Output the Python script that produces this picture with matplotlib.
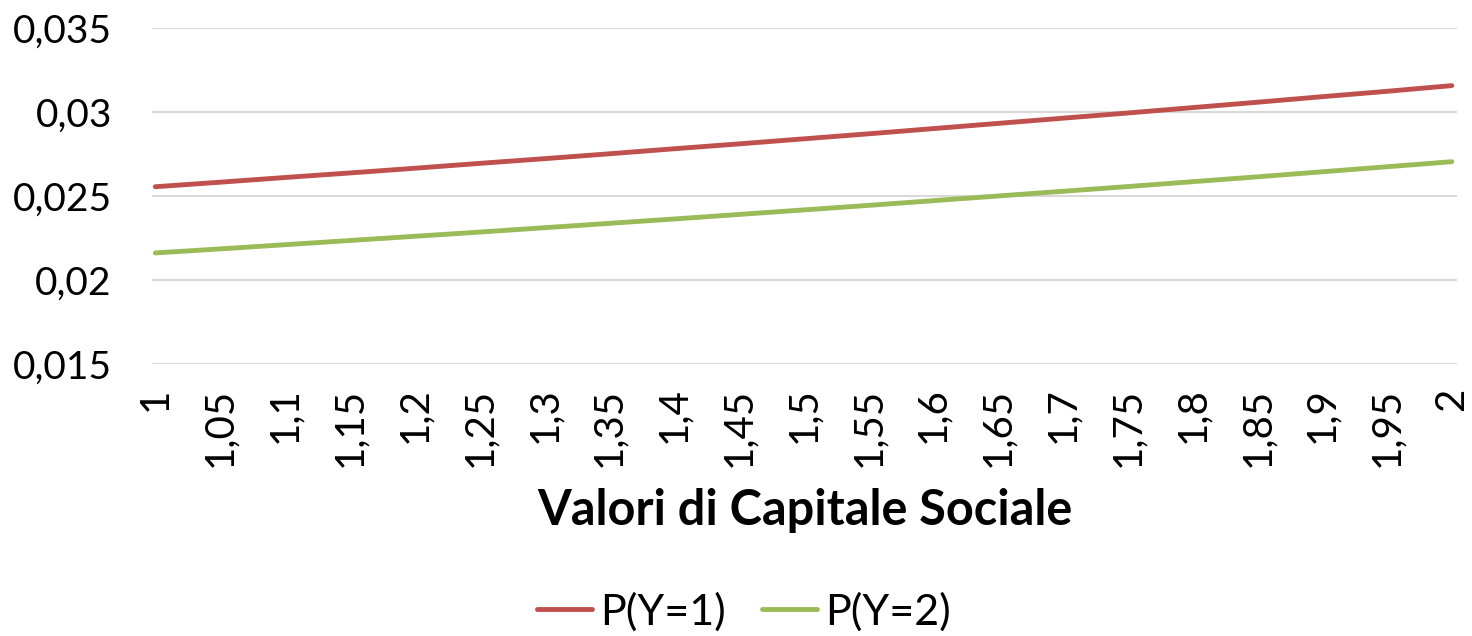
import matplotlib
matplotlib.use("Agg")
import matplotlib.pyplot as plt

categories = ["1", "1,05", "1,1", "1,15", "1,2", "1,25", "1,3", "1,35", "1,4", "1,45", "1,5",
              "1,55", "1,6", "1,65", "1,7", "1,75", "1,8", "1,85", "1,9", "1,95", "2"]
p_y1 = [0.02555, 0.02582, 0.02610, 0.02637, 0.02665, 0.02694, 0.02722, 0.02751, 0.02781, 0.02810,
        0.02840, 0.02870, 0.02901, 0.02932, 0.02963, 0.02994, 0.03026, 0.03058, 0.03091, 0.03123, 0.03157]
p_y2 = [0.02161, 0.02185, 0.02210, 0.02235, 0.02260, 0.02285, 0.02311, 0.02337, 0.02363, 0.02390,
        0.02417, 0.02444, 0.02472, 0.02500, 0.02528, 0.02556, 0.02585, 0.02614, 0.02644, 0.02674, 0.02704]
y_ticks = [0.015, 0.02, 0.025, 0.03, 0.035]
y_labels = ["0,015", "0,02", "0,025", "0,03", "0,035"]

plt.rcParams['font.family'] = ['Lato', 'DejaVu Sans']

fig = plt.figure(figsize=(14.72, 6.36), dpi=100)
ax = fig.add_axes([0.1033, 0.4277, 0.9898 - 0.1033, 0.956 - 0.4277])

x = list(range(len(categories)))
ax.plot(x, p_y1, color="#C0504D", lw=3.5, solid_capstyle="round", label="P(Y=1)")
ax.plot(x, p_y2, color="#9BBB59", lw=3.5, solid_capstyle="round", label="P(Y=2)")

ax.set_ylim(0.015, 0.035)
ax.set_xlim(-0.05, len(categories) - 1 + 0.08)
ax.set_yticks(y_ticks)
ax.set_yticklabels(y_labels, fontsize=28)
ax.set_xticks(x)
ax.set_xticklabels(categories, rotation=90, fontsize=29, va="top", ha="center")
ax.tick_params(axis="both", length=0)
ax.tick_params(axis="y", pad=29)
ax.tick_params(axis="x", pad=17)
ax.grid(axis="y", color="#D9D9D9", lw=1.5)
ax.set_axisbelow(True)
for s in ax.spines.values():
    s.set_visible(False)

fig.text(0.547, 0.197, "Valori di Capitale Sociale", fontsize=35, fontweight="bold",
         ha="center", va="center")

leg = fig.legend(loc="center", bbox_to_anchor=(0.5055, 0.038), ncol=2, frameon=False,
                 fontsize=31, handlelength=1.28, handletextpad=0.19, columnspacing=0.84)
for h in leg.get_lines():
    h.set_linewidth(3.5)
    h.set_solid_capstyle("round")

fig.savefig("out.png", dpi=100)
